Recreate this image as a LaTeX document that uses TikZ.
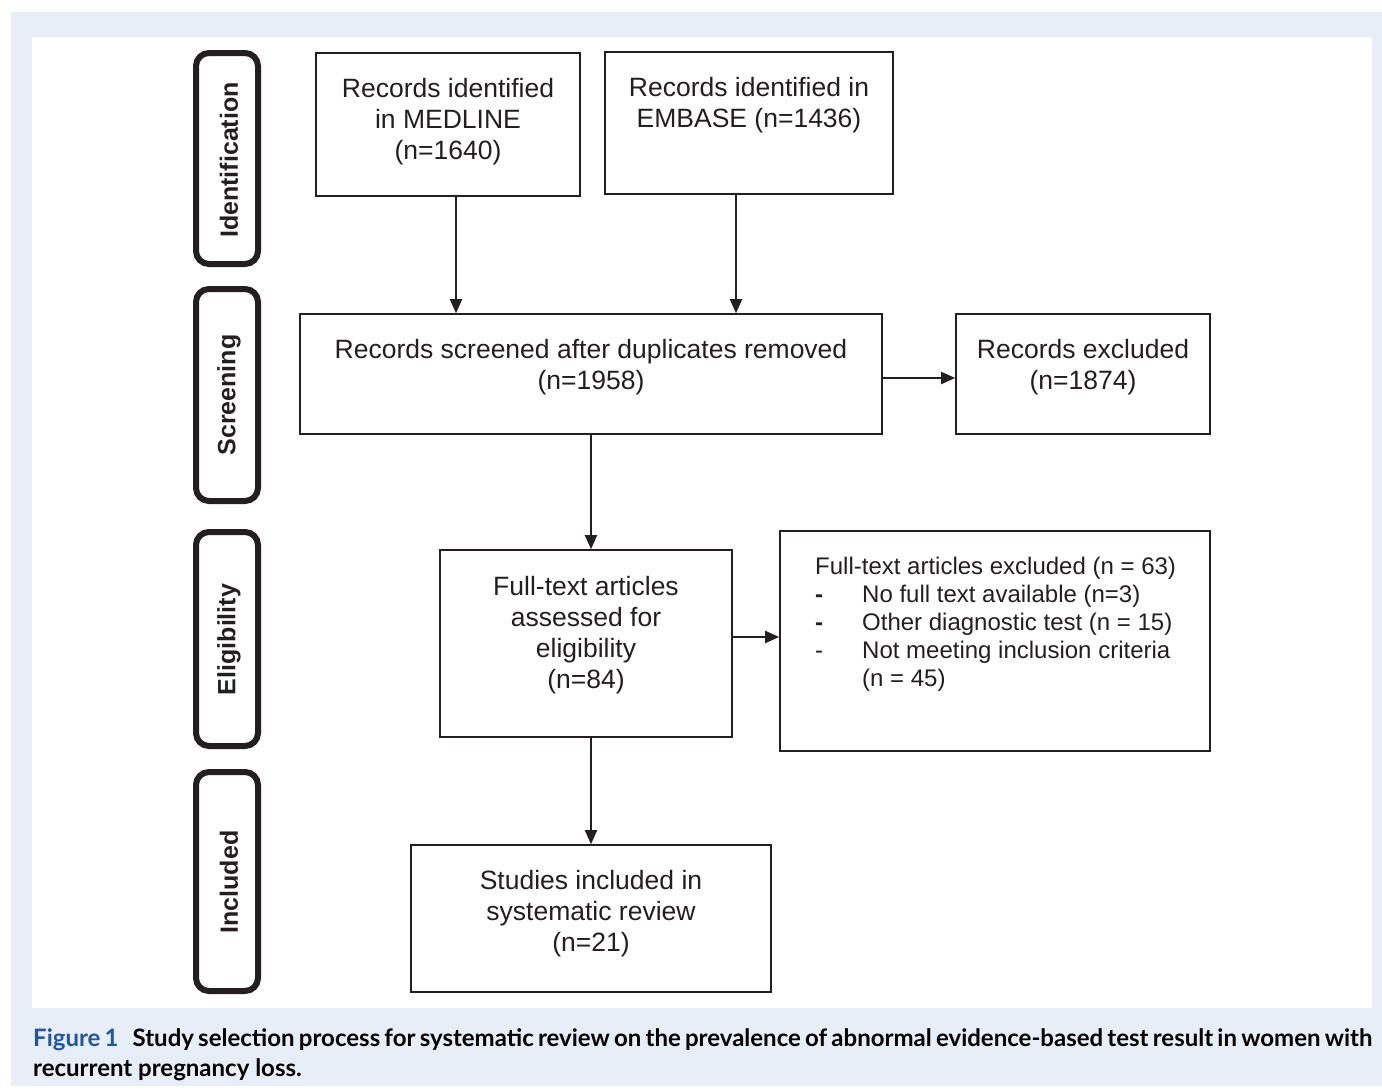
\documentclass[tikz,border=0pt]{standalone}
\usepackage{fontspec}
\setmainfont{Liberation Sans}
\newfontfamily\capfont{Lato}
\usetikzlibrary{arrows.meta}
\definecolor{bgblue}{HTML}{E7EEF8}
\definecolor{capblue}{HTML}{23559F}
\definecolor{ink}{HTML}{231F20}
\begin{document}
\begin{tikzpicture}[x=1pt,y=-1pt,
  box/.style={draw=ink,line width=1.6pt,inner sep=0pt},
  txt/.style={text=ink,inner sep=0pt,align=center,font=\fontsize{26.5}{31}\selectfont,anchor=north},
  stage/.style={draw=ink,line width=6pt,rounded corners=13pt,inner sep=0pt,minimum width=62pt},
  stagetxt/.style={text=ink,inner sep=0pt,rotate=90,font=\bfseries\fontsize{25}{30}\selectfont},
  arr/.style={draw=ink,line width=2pt,-{Triangle[length=14pt,width=12pt]}}]
\useasboundingbox (0,0) rectangle (1382,1092);
\fill[bgblue] (11,12) rectangle (1382,1086);
\fill[white] (32,37) rectangle (1372,1008);

% stage labels
\node[stage,minimum height=211pt] (sid) at (227,158.5) {};
\node[stagetxt] (sidt) at (229,160) {Identification};
\node[stage,minimum height=212pt] (ssc) at (227,395) {};
\node[stagetxt] (ssct) at (229,395) {Screening};
\node[stage,minimum height=214pt] (sel) at (227,639) {};
\node[stagetxt] (selt) at (229,639.5) {Eligibility};
\node[stage,minimum height=219pt] (sin) at (227,881.5) {};
\node[stagetxt] (sint) at (229,882) {Included};

% boxes
\node[box,minimum width=264pt,minimum height=143pt] (med) at (448,124.5) {};
\node[txt] (medt) at (448,78) {Records identified\\in MEDLINE\\(n=1640)};
\node[box,minimum width=288pt,minimum height=142pt] (emb) at (749,123) {};
\node[txt] (embt) at (749,77) {Records identified in\\EMBASE (n=1436)};
\node[box,minimum width=582pt,minimum height=120pt] (scr) at (591,374) {};
\node[txt] (scrt) at (591,339) {Records screened after duplicates removed\\(n=1958)};
\node[box,minimum width=254pt,minimum height=120pt] (exc) at (1083,374) {};
\node[txt] (exct) at (1083,339) {Records excluded\\(n=1874)};
\node[box,minimum width=292pt,minimum height=187pt] (ft) at (586,643.5) {};
\node[txt] (ftt) at (586,576) {Full-text articles\\assessed for\\eligibility\\(n=84)};
\node[box,minimum width=430pt,minimum height=220pt] (ftx) at (995,641) {};
\node[text=ink,inner sep=0pt,align=left,anchor=north west,font=\fontsize{24}{28}\selectfont] (ftxt) at (815,557)
 {Full-text articles excluded (n = 63)\\
  \makebox[47pt][l]{\textbf{-}}No full text available (n=3)\\
  \makebox[47pt][l]{\textbf{-}}Other diagnostic test (n = 15)\\
  \makebox[47pt][l]{-}Not meeting inclusion criteria\\
  \hspace*{47pt}(n = 45)};
\node[box,minimum width=360pt,minimum height=147pt] (inc) at (591,918.5) {};
\node[txt] (inct) at (591,870) {Studies included in\\systematic review\\(n=21)};

% connectors
\draw[arr] ([xshift=8pt]med.south) -- ([xshift=8pt]med.south |- scr.north);
\draw[arr] ([xshift=-13pt]emb.south) -- ([xshift=-13pt]emb.south |- scr.north);
\draw[arr] ([yshift=-4pt]scr.east) -- ([yshift=-4pt]scr.east -| exc.west);
\draw[arr] (scr.south) -- (scr.south |- ft.north);
\draw[arr] ([yshift=6.5pt]ft.east) -- ([yshift=6.5pt]ft.east -| ftx.west);
\draw[arr] (inc.north |- ft.south) -- (inc.north);

% caption
\node[inner sep=0pt,anchor=north west,text width=1339pt,align=justify,
  font=\capfont\bfseries\fontsize{24}{30}\selectfont] (cap) at (33,1028)
 {\textcolor{capblue}{Figure 1}\hspace{14pt}Study selection process for systematic review on the prevalence of abnormal evidence-based test result in women with\linebreak recurrent pregnancy loss.};
\end{tikzpicture}
\end{document}
